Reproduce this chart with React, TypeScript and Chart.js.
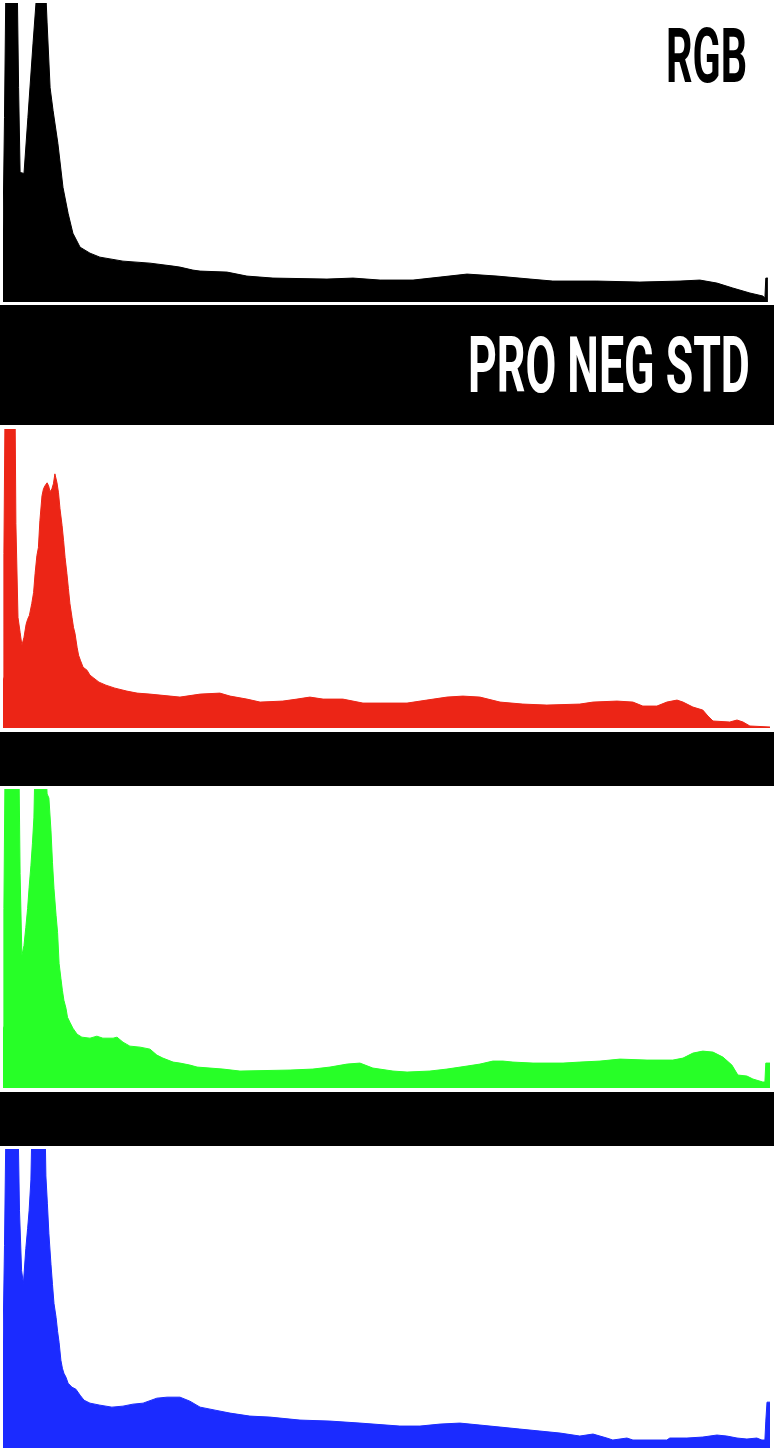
import React, { useEffect, useRef } from "react";
import { Chart, registerables } from "chart.js";

Chart.register(...registerables);

// Tone levels (0–255) and histogram heights (clipped peaks > 300)
const RGB_HIST: [number, number][] = [
  [0, 72], [0.5, 185], [1, 330], [4.7, 330], [5.2, 215], [5.7, 130], [7, 129], [8.3, 185],
  [10, 259], [11, 300], [11.3, 330], [14, 330], [14.7, 280], [15.7, 215], [16.7, 192],
  [18.3, 159], [20, 115], [21.7, 89], [23.3, 69], [25.7, 55], [29, 49], [32.3, 45], [40, 41],
  [49, 39], [56.7, 36], [59, 35], [63.3, 32], [65.7, 31], [74.7, 30], [81.3, 26], [90, 24],
  [108, 23], [116.7, 24], [125.7, 22], [136.7, 22], [145.7, 25], [154.7, 28], [164.7, 26],
  [175.7, 23], [183.3, 21], [198, 21], [212.3, 20], [225.7, 21], [232.3, 22], [238, 19],
  [243.3, 14], [249, 9], [253.3, 6], [254, 4], [254.3, 24], [255, 24],
];

const RED_HIST: [number, number][] = [
  [0, 50], [0.3, 175], [0.7, 330], [4, 330], [4.3, 205], [5, 111], [5.7, 96], [6.3, 83],
  [7, 91], [7.7, 104], [8.2, 109], [8.8, 113], [9.6, 125], [10.2, 136], [10.7, 155],
  [11.3, 173], [11.8, 181], [12.3, 208], [13, 233], [13.5, 240], [14, 243], [14.7, 246],
  [15.2, 243], [15.7, 237], [16.3, 240], [16.8, 245], [17.3, 255], [18, 246], [18.5, 236],
  [19, 220], [19.7, 203], [20.2, 188], [20.7, 171], [21.3, 155], [21.8, 140], [22.3, 125],
  [23, 111], [23.5, 101], [24, 95], [24.7, 81], [25.2, 73], [25.8, 68], [26.7, 61], [28, 58],
  [29, 53], [30.3, 50], [32, 46], [34.3, 43], [37.3, 40], [41.3, 37], [44.7, 35], [49, 34],
  [55.7, 32], [59, 31], [65.7, 34], [72.3, 35], [75.7, 32], [81.3, 29], [85.7, 26], [93.3, 27],
  [98, 29], [102.3, 31], [106.7, 29], [113.3, 29], [120, 25], [125.7, 25], [134.7, 25],
  [141.3, 28], [148, 31], [153.3, 32], [159, 31], [165.7, 26], [173.3, 24], [181.3, 23],
  [192.3, 24], [196.7, 26], [204.7, 27], [210, 26], [213.3, 22], [218, 22], [221.3, 26],
  [224.7, 28], [226.7, 26], [230, 21], [233.3, 18], [235, 12], [236.7, 7], [242.3, 6],
  [244.7, 8], [246.7, 6], [249, 2], [255.7, 1],
];

const GREEN_HIST: [number, number][] = [
  [0, 61], [0.3, 180], [0.7, 330], [5.3, 330], [5.7, 215], [6.3, 133], [7, 143], [7.6, 161],
  [8.2, 180], [8.7, 201], [9.3, 223], [9.8, 245], [10.3, 271], [10.7, 330], [14.2, 330],
  [14.7, 295], [15.3, 291], [16, 258], [16.5, 226], [17, 200], [17.7, 173], [18.2, 156],
  [18.7, 125], [19.3, 110], [19.8, 98], [20.3, 88], [21, 80], [21.5, 71], [22.3, 66],
  [23.3, 60], [24.7, 54], [26.3, 51], [29, 50], [31.3, 52], [33.3, 50], [36.7, 50], [38, 51],
  [40, 46], [42.3, 42], [45.7, 41], [49, 39], [51.3, 33], [53.3, 30], [56.7, 26], [59, 25],
  [62.3, 23], [64.7, 21], [73.3, 19], [79, 17], [95.7, 18], [103.3, 19], [109, 21],
  [114.7, 24], [119, 25], [123.3, 20], [130, 17], [134.7, 16], [142.3, 17], [148, 19],
  [154.7, 22], [159, 24], [163.3, 27], [166.7, 27], [170, 26], [176.7, 25], [186.7, 25],
  [192.3, 26], [199, 27], [205.7, 29], [214.7, 28], [223.3, 28], [226.7, 30], [230, 35],
  [233.3, 37], [236.7, 36], [240, 31], [243, 23], [245, 13], [248, 12], [250, 9], [253.3, 6],
  [254, 6], [254.3, 25], [255.7, 25],
];

const BLUE_HIST: [number, number][] = [
  [0, 106], [0.5, 203], [1, 330], [5, 330], [5.5, 238], [6.2, 178], [6.8, 165], [7.6, 200],
  [8.2, 220], [8.7, 238], [9.3, 269], [9.7, 330], [14, 330], [14.3, 273], [14.8, 245],
  [15.3, 215], [16, 184], [16.5, 164], [17, 145], [17.7, 131], [18.2, 117], [18.7, 106],
  [19.3, 88], [19.8, 80], [20.3, 75], [21, 71], [21.7, 65], [23, 61], [24.3, 59], [25.7, 53],
  [27, 48], [29, 45], [32.3, 43], [36.3, 41], [40, 42], [43.3, 44], [46.7, 45], [51.3, 50],
  [54.7, 51], [59, 51], [62.3, 47], [65.7, 41], [70.7, 38], [75.7, 35], [82.3, 32], [89, 31],
  [99, 28], [109, 27], [119, 25], [132.3, 22], [139, 22], [145.7, 24], [152.3, 25], [159, 23],
  [165.7, 21], [172.3, 19], [179, 17], [185.7, 15], [192.3, 12], [196.7, 14], [199, 12],
  [201.3, 10], [203.3, 8], [208, 10], [210, 8], [221.3, 8], [222.3, 10], [228, 10],
  [233.3, 11], [238, 13], [241.3, 12], [244.7, 10], [248, 9], [251.3, 10], [253, 8], [254, 8],
  [254.3, 27], [254.7, 46], [255.7, 46],
];

const TITLE_TOP = "RGB";
const TITLE_BAND = "PRO NEG STD";

const COLORS = {
  rgb: "#000000",
  red: "#ec2516",
  green: "#27ff27",
  blue: "#1b2bff",
};

const Y_MAX = 300;
const X_MAX = 255.7;

type Panel = {
  key: string;
  data: [number, number][];
  color: string;
  top: number;
  height: number;
  padTop: number;
  padBottom: number;
};

const PANELS: Panel[] = [
  { key: "rgb", data: RGB_HIST, color: COLORS.rgb, top: 0, height: 305, padTop: 3, padBottom: 3 },
  { key: "red", data: RED_HIST, color: COLORS.red, top: 425, height: 307, padTop: 4, padBottom: 4 },
  { key: "green", data: GREEN_HIST, color: COLORS.green, top: 786, height: 306, padTop: 3, padBottom: 4 },
  { key: "blue", data: BLUE_HIST, color: COLORS.blue, top: 1146, height: 306, padTop: 3, padBottom: 4 },
];

const W = 774;

export default function App() {
  const canvasRefs = useRef<(HTMLCanvasElement | null)[]>([]);
  const rgbTitle = useRef<HTMLSpanElement | null>(null);
  const bandTitle = useRef<HTMLSpanElement | null>(null);

  useEffect(() => {
    document.body.style.margin = "0";
    const charts: Chart[] = [];
    PANELS.forEach((p, i) => {
      const c = canvasRefs.current[i];
      if (!c) return;
      charts.push(
        new Chart(c, {
          type: "line",
          data: {
            datasets: [
              {
                data: p.data.map(([x, y]) => ({ x, y })),
                fill: "origin",
                backgroundColor: p.color,
                borderColor: p.color,
                borderWidth: 1,
                pointRadius: 0,
                tension: 0,
              },
            ],
          },
          options: {
            animation: false,
            responsive: false,
            events: [],
            layout: { padding: { left: 3, right: 4, top: p.padTop, bottom: p.padBottom } },
            scales: {
              x: { type: "linear", min: 0, max: X_MAX, display: false },
              y: { min: 0, max: Y_MAX, display: false },
            },
            plugins: { legend: { display: false }, tooltip: { enabled: false }, title: { display: false } },
          },
        })
      );
    });

    const fit = (el: HTMLSpanElement | null, target: number) => {
      if (!el) return;
      el.style.transform = "none";
      const w = el.offsetWidth;
      if (w > 0) el.style.transform = `scaleX(${target / w})`;
    };
    fit(rgbTitle.current, 81);
    fit(bandTitle.current, 282);

    return () => charts.forEach((c) => c.destroy());
  }, []);

  const titleStyle: React.CSSProperties = {
    position: "absolute",
    display: "inline-block",
    fontFamily: "Roboto, 'Open Sans', sans-serif",
    fontWeight: 700,
    lineHeight: 1,
    whiteSpace: "nowrap",
    transformOrigin: "right center",
  };

  return (
    <div style={{ position: "relative", width: W, height: 1452, background: "#fff", overflow: "hidden" }}>
      {PANELS.map((p, i) => (
        <canvas
          key={p.key}
          ref={(el) => {
            canvasRefs.current[i] = el;
          }}
          width={W}
          height={p.height}
          style={{ position: "absolute", left: 0, top: p.top, width: W, height: p.height }}
        />
      ))}
      <div style={{ position: "absolute", left: 0, top: 305, width: W, height: 120, background: "#000" }} />
      <div style={{ position: "absolute", left: 0, top: 732, width: W, height: 54, background: "#000" }} />
      <div style={{ position: "absolute", left: 0, top: 1092, width: W, height: 54, background: "#000" }} />
      <span ref={rgbTitle} style={{ ...titleStyle, right: 27, top: 18, fontSize: 76, color: "#000" }}>
        {TITLE_TOP}
      </span>
      <span ref={bandTitle} style={{ ...titleStyle, right: 24, top: 327, fontSize: 78, color: "#fff" }}>
        {TITLE_BAND}
      </span>
    </div>
  );
}
